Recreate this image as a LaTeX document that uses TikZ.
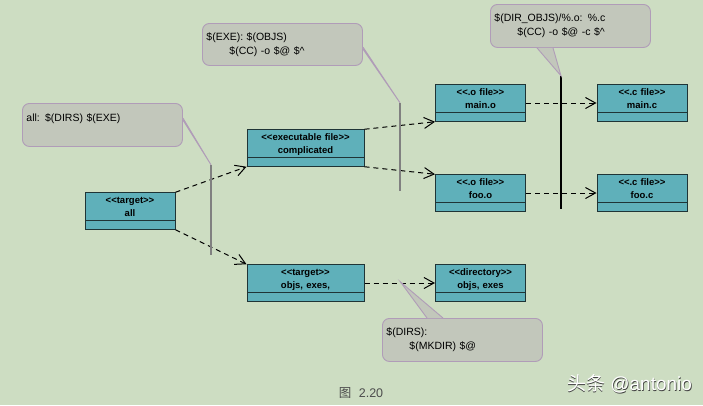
\documentclass[tikz,border=0pt]{standalone}
\usepackage{fontspec}
\setmainfont{Liberation Sans}
\newfontfamily\cjk{Noto Sans CJK SC}
\usetikzlibrary{shapes,arrows.meta}
\definecolor{fond}{HTML}{CDDDC2}
\definecolor{bleu}{HTML}{5FB0BA}
\definecolor{bord}{HTML}{1F3436}
\definecolor{gris}{HTML}{C2C7BB}
\definecolor{mauve}{HTML}{B09CB8}
\newcommand{\boite}[2]{\rule{0pt}{10pt}<{}<#1>{}>\\#2\rule[-3pt]{0pt}{3pt}\nodepart{two}\rule{0pt}{8pt}}
\tikzstyle{classe}=[rectangle split,rectangle split parts=2,
anchor=center,draw=bord,line width=1pt,fill=bleu,text=black,inner xsep=0pt,inner ysep=0pt,
text width=90pt,align=center,font=\fontsize{9.5}{13.5}\selectfont\bfseries]
\tikzstyle{classe1}=[classe,text width=117pt]
\tikzstyle{note}=[rectangle,rounded corners=7pt,draw=mauve,line width=0.9pt,fill=gris,anchor=north west,
inner xsep=4pt,inner ysep=0pt,text width=152pt,align=left,font=\fontsize{10.5}{14}\selectfont]
\tikzstyle{queue}=[draw=mauve,line width=0.9pt,fill=gris]
\tikzstyle{barre}=[rectangle,inner sep=0pt,minimum width=1.3pt,fill=black]
\tikzstyle{lien}=[draw=black,line width=1pt,dash pattern=on 5pt off 4pt,-{Straight Barb[length=10pt,width=11pt]}]
\begin{document}
\begin{tikzpicture}[x=1pt,y=-1pt]
      \path[use as bounding box,fill=fond] (0,0) rectangle (703,405);

      \node[classe] (all) at (130,211) {\boite{target}{all}};
      \node[classe1] (complicated) at (305.5,148) {\boite{executable file}{complicated}};
      \node[classe1] (objsexes) at (305.5,283) {\boite{target}{objs, exes,}};
      \node[classe] (maino) at (480.5,103) {\boite{.o file}{main.o}};
      \node[classe] (fooo) at (480.5,193) {\boite{.o file}{foo.o}};
      \node[classe] (dir) at (480.5,283) {\boite{directory}{objs, exes}};
      \node[classe] (mainc) at (642,103) {\boite{.c file}{main.c}};
      \node[classe] (fooc) at (642,193) {\boite{.c file}{foo.c}};

      \draw[lien] (all.north east) -- (complicated.south west);
      \draw[lien] (all.south east) -- (objsexes.north west);
      \draw[lien] (complicated.north east) -- (maino.south west);
      \draw[lien] (complicated.south east) -- (fooo.north west);
      \draw[lien] (maino.east) -- (mainc.west);
      \draw[lien] (fooo.east) -- (fooc.west);
      \draw[lien] (objsexes.east) -- (dir.west);

      \node[barre,fill=gray,minimum height=90pt] (barall) at (211,210) {};
      \node[barre,fill=gray,minimum height=88pt] (barexe) at (400,147) {};
      \node[barre,minimum height=133pt] (barobjs) at (561,142.5) {};
      \coordinate (tipdirs) at (400.5,282);

      \node[note,minimum height=43pt] (noteall) at (22,103) {all: \$(DIRS) \$(EXE)\\\mbox{}};
      \node[note,minimum height=42pt] (noteexe) at (202,23) {\$(EXE): \$(OBJS)\\\hspace*{23pt}\$(CC) -o \$@ \$\textasciicircum};
      \node[note,minimum height=43pt] (noteobjs) at (490,4) {\$(DIR\_OBJS)/\%.o: \%.c\\\hspace*{23pt}\$(CC) -o \$@ -c \$\textasciicircum};
      \node[note,minimum height=43pt] (notedirs) at (382,318) {\$(DIRS):\\\hspace*{23pt}\$(MKDIR) \$@};

      \draw[queue] ([yshift=-15pt]noteall.north east) -- (barall.north) -- ([yshift=-17pt]noteall.north east);
      \draw[queue] ([yshift=-24pt]noteexe.north east) -- (barexe.north) -- ([yshift=-26pt]noteexe.north east);
      \fill[gris] ([xshift=47pt]noteobjs.south west) -- (barobjs.north) -- ([xshift=63pt]noteobjs.south west) -- cycle;
      \draw[mauve,line width=0.9pt] ([xshift=47pt]noteobjs.south west) -- (barobjs.north) -- ([xshift=63pt]noteobjs.south west);
      \fill[gris] ([xshift=45pt]notedirs.north west) -- (tipdirs) -- ([xshift=61pt]notedirs.north west) -- cycle;
      \draw[mauve,line width=0.9pt] ([xshift=45pt]notedirs.north west) -- (tipdirs) -- ([xshift=61pt]notedirs.north west);

      \node[text=black!70,font=\fontsize{12.5}{14}\selectfont] (legende) at (361,393) {{\cjk 图}\hspace{4pt} 2.20};
      \node[text=black!75,font=\fontsize{19}{21}\selectfont] (marque1) at (630.2,384.7) {{\cjk 头条} @antonio};
      \node[text=white,font=\fontsize{19}{21}\selectfont] (marque) at (629.5,384) {{\cjk 头条} @antonio};
\end{tikzpicture}
\end{document}
